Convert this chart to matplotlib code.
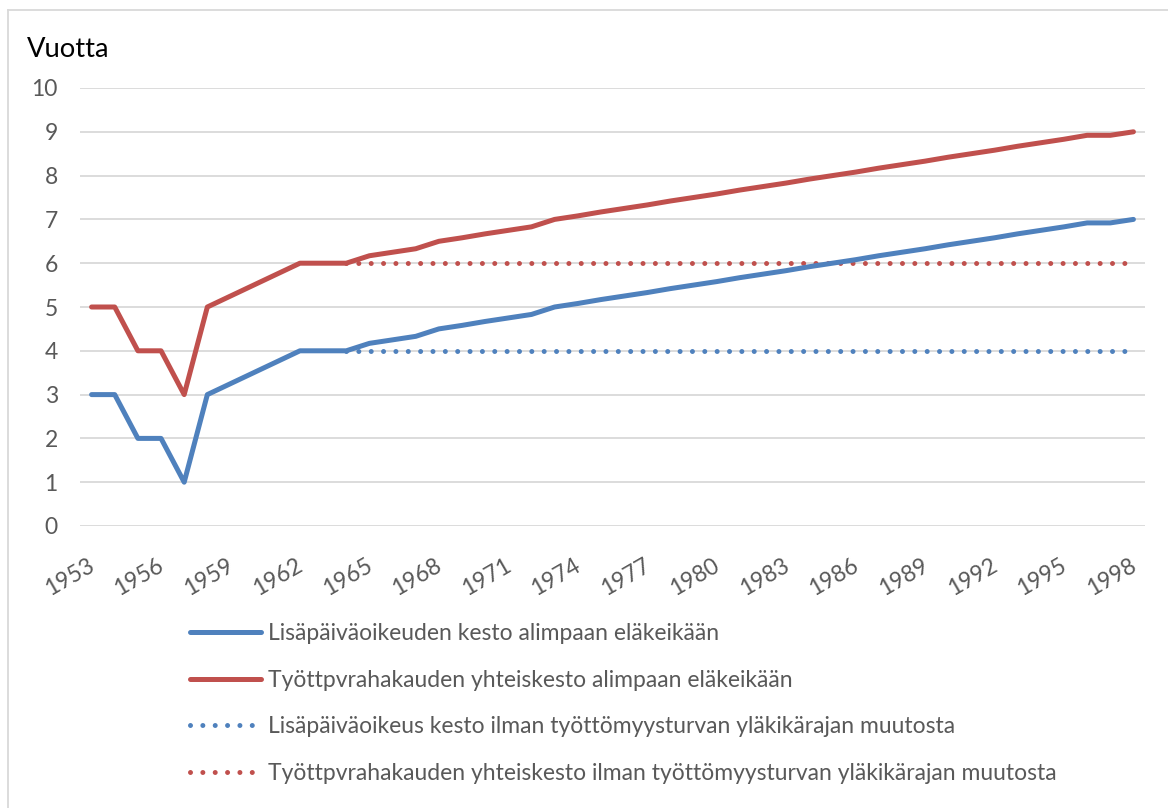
import matplotlib
matplotlib.use("Agg")
import matplotlib.pyplot as plt
import matplotlib.transforms as mtransforms
from matplotlib.lines import Line2D
import numpy as np

plt.rcParams['font.family'] = ['Lato', 'DejaVu Sans']

# Years on the category axis
years = list(range(1953, 1999))

# Duration of the additional-day entitlement up to the lowest pension age (years)
lisapaiva = [3, 3, 2, 2, 1, 3, 3.25, 3.5, 3.75, 4, 4, 4,
             4.17, 4.25, 4.33, 4.5, 4.58, 4.67, 4.75, 4.83, 5.0,
             5.08, 5.17, 5.25, 5.33, 5.42, 5.5, 5.58, 5.67, 5.75, 5.83, 5.92,
             6.0, 6.08, 6.17, 6.25, 6.33, 6.42, 6.5, 6.58, 6.67, 6.75, 6.83, 6.92,
             6.92, 7.0]

# Total unemployment-allowance period up to the lowest pension age (years)
yhteiskesto = [5, 5, 4, 4, 3, 5, 5.25, 5.5, 5.75, 6, 6, 6,
               6.17, 6.25, 6.33, 6.5, 6.58, 6.67, 6.75, 6.83, 7.0,
               7.08, 7.17, 7.25, 7.33, 7.42, 7.5, 7.58, 7.67, 7.75, 7.83, 7.92,
               8.0, 8.08, 8.17, 8.25, 8.33, 8.42, 8.5, 8.58, 8.67, 8.75, 8.83, 8.92,
               8.92, 9.0]

# Without the change to the upper age limit of unemployment security (from 1964)
lisapaiva_ilman = [None] * 11 + [4] * 35
yhteiskesto_ilman = [None] * 11 + [6] * 35

labels = [
    "Lisäpäiväoikeuden kesto alimpaan eläkeikään",
    "Työttpvrahakauden yhteiskesto alimpaan eläkeikään",
    "Lisäpäiväoikeus kesto ilman työttömyysturvan yläkikärajan muutosta",
    "Työttpvrahakauden yhteiskesto ilman työttömyysturvan yläkikärajan muutosta",
]

BLUE = "#4F81BD"
RED = "#C0504D"
GRID = "#D9D9D9"
TXT = "#595959"
FS = 16.5

W, H = 1168, 808
fig = plt.figure(figsize=(W / 100, H / 100), dpi=100)
ax = fig.add_axes([80 / W, 1 - 526 / H, (1145 - 80) / W, (526 - 88) / H])

x = np.arange(len(years))
lw = 3.6
dot = (0, (0.001, 2.47))

def to_arr(v):
    return np.array([np.nan if e is None else e for e in v], dtype=float)

ax.plot(x, to_arr(lisapaiva_ilman), color=BLUE, lw=lw, linestyle=dot,
        dash_capstyle='round', zorder=3, label=labels[2])
ax.plot(x, to_arr(yhteiskesto_ilman), color=RED, lw=lw, linestyle=dot,
        dash_capstyle='round', zorder=3, label=labels[3])
ax.plot(x, lisapaiva, color=BLUE, lw=lw, solid_capstyle='round',
        solid_joinstyle='round', zorder=4, label=labels[0])
ax.plot(x, yhteiskesto, color=RED, lw=lw, solid_capstyle='round',
        solid_joinstyle='round', zorder=4, label=labels[1])

ax.set_xlim(-0.5, len(years) - 0.5)
ax.set_ylim(0, 10)
ax.set_yticks(range(0, 11))
ax.yaxis.grid(True, color=GRID, lw=1.3)
ax.set_axisbelow(True)
for s in ax.spines.values():
    s.set_visible(False)
ax.tick_params(axis='both', length=0, colors=TXT, labelsize=FS)
ax.tick_params(axis='y', pad=16)

tick_idx = list(range(0, len(years), 3))
ax.set_xticks(tick_idx)
ax.set_xticklabels([str(years[i]) for i in tick_idx], rotation=30,
                   ha='right', va='top', rotation_mode='anchor')
ax.tick_params(axis='x', pad=18)
shift = mtransforms.ScaledTranslation(-4 / 100, -4 / 100, fig.dpi_scale_trans)
for t in ax.get_xticklabels():
    t.set_transform(t.get_transform() + shift)

fig.text(27 / W, 1 - 57 / H, "Vuotta", fontsize=19.7, color="#000000",
         ha='left', va='baseline')

# chart-area frame
fig.add_artist(Line2D([7.5 / W, 7.5 / W], [0, 1 - 9.5 / H], color=GRID, lw=1.3,
                      transform=fig.transFigure))
fig.add_artist(Line2D([7.5 / W, 1], [1 - 9.5 / H, 1 - 9.5 / H], color=GRID, lw=1.3,
                      transform=fig.transFigure))

h, l = ax.get_legend_handles_labels()
order = [2, 3, 0, 1]
fig.legend([h[i] for i in order], [l[i] for i in order], loc='upper left',
           bbox_to_anchor=(190 / W, 1 - 623 / H), frameon=False, borderpad=0,
           borderaxespad=0, handlelength=3.1, handletextpad=0.3,
           labelspacing=1.12, fontsize=FS, labelcolor=TXT)

fig.savefig("out.png", dpi=100)
